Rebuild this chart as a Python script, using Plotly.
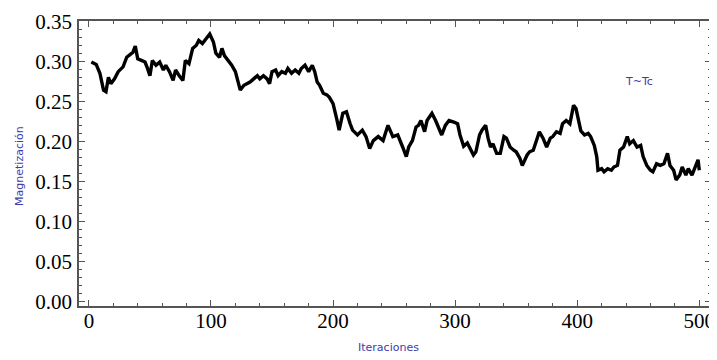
import plotly.graph_objects as go

iteraciones = [2, 6, 9, 12, 14, 16, 18, 21, 24, 28, 31, 33, 36, 38, 40, 43, 46, 48, 50, 52,
               55, 58, 61, 63, 66, 69, 71, 74, 77, 79, 82, 85, 88, 90, 93, 96, 99,
               102, 104, 107, 109, 111, 114, 117, 120, 122, 124, 127, 130, 132, 135, 138, 140,
               143, 146, 148, 150, 153, 155, 158, 161, 163, 166, 169, 172, 174, 177, 180, 183,
               185, 187, 189, 192, 195, 197, 200, 203, 205, 208, 211, 214, 216, 220, 224, 227,
               230, 233, 237, 241, 245, 249, 253, 257, 260, 262, 265, 268, 270, 272, 275, 277,
               281, 284, 287, 289, 292, 295, 299, 302, 304, 307, 310, 312, 315, 317, 320, 322,
               325, 327, 329, 331, 334, 337, 340, 342, 345, 348, 350, 353, 355, 359, 361, 364,
               367, 369, 372, 375, 378, 380, 383, 386, 388, 391, 394, 397, 399, 401, 403, 406,
               409, 411, 414, 416, 417, 420, 422, 425, 428, 430, 433, 435, 438, 441, 443, 446,
               449, 452, 454, 457, 460, 462, 465, 468, 471, 474, 476, 479, 481, 484, 486, 489,
               491, 494, 497, 499, 500]
magnetizacion = [0.299, 0.296, 0.285, 0.264, 0.262, 0.280, 0.272, 0.278, 0.287, 0.293, 0.305,
                 0.307, 0.311, 0.319, 0.303, 0.301, 0.299, 0.291, 0.282, 0.301, 0.295, 0.299,
                 0.289, 0.295, 0.287, 0.276, 0.289, 0.282, 0.276, 0.301, 0.297, 0.316, 0.320,
                 0.326, 0.322, 0.328, 0.334,
                 0.324, 0.310, 0.305, 0.316, 0.307, 0.301, 0.295, 0.287, 0.276, 0.264, 0.270,
                 0.272, 0.274, 0.278, 0.282, 0.278, 0.282, 0.278, 0.272, 0.287, 0.289, 0.282,
                 0.287, 0.285, 0.291, 0.285, 0.289, 0.285, 0.291, 0.295, 0.287, 0.295, 0.287,
                 0.274, 0.270, 0.260, 0.258, 0.255, 0.247, 0.228, 0.214, 0.235, 0.237, 0.222,
                 0.214, 0.208, 0.214, 0.206, 0.191, 0.201, 0.206, 0.201, 0.220, 0.206, 0.208,
                 0.193, 0.181, 0.193, 0.201, 0.218, 0.220, 0.226, 0.212, 0.226, 0.235, 0.226,
                 0.216, 0.208, 0.220, 0.226, 0.224, 0.222, 0.208, 0.194, 0.198, 0.192, 0.183,
                 0.187, 0.208, 0.214, 0.220, 0.204, 0.193, 0.197, 0.185, 0.185, 0.206, 0.204,
                 0.193, 0.189, 0.187, 0.179, 0.170, 0.183, 0.187, 0.189, 0.204, 0.212, 0.204,
                 0.193, 0.204, 0.206, 0.212, 0.210, 0.222, 0.226, 0.222, 0.245, 0.241, 0.228,
                 0.213, 0.208, 0.210, 0.206, 0.195, 0.181, 0.164, 0.166, 0.162, 0.166, 0.164,
                 0.168, 0.170, 0.189, 0.193, 0.206, 0.197, 0.201, 0.193, 0.195, 0.181, 0.170,
                 0.164, 0.162, 0.172, 0.170, 0.172, 0.185, 0.170, 0.164, 0.152, 0.158, 0.168,
                 0.158, 0.166, 0.158, 0.170, 0.177, 0.164]

x_ticks = [0, 100, 200, 300, 400, 500]
y_ticks = [0.00, 0.05, 0.10, 0.15, 0.20, 0.25, 0.30, 0.35]
y_tick_labels = [f"{v:.2f}" for v in y_ticks]

fig = go.Figure()
fig.add_trace(go.Scatter(x=iteraciones, y=magnetizacion, mode="lines",
                         line=dict(color="black", width=3.4), showlegend=False))

axis_common = dict(showgrid=False, zeroline=False, showline=True, linecolor="#555555",
                   linewidth=1.5, mirror="ticks", ticks="inside", ticklen=6, tickcolor="#555555",
                   tickfont=dict(family="Liberation Serif", size=21, color="black"))

fig.update_xaxes(range=[-8.1, 509.6], tickvals=x_ticks, ticklabelstandoff=-5,
                 minor=dict(dtick=20, ticks="inside", ticklen=3, tickcolor="#555555"),
                 **axis_common)
fig.update_yaxes(range=[-0.0054, 0.3502], tickvals=y_ticks, ticktext=y_tick_labels,
                 ticklabelstandoff=1,
                 minor=dict(dtick=0.01, ticks="inside", ticklen=3, tickcolor="#555555"),
                 **axis_common)

blue = "#3c3caa"
fig.add_annotation(text="Iteraciones", xref="paper", yref="paper", x=0.49, y=-0.147,
                   showarrow=False, xanchor="center", yanchor="middle",
                   font=dict(family="DejaVu Sans", size=11, color=blue))
fig.add_annotation(text="Magnetización", xref="paper", yref="paper", x=-0.094, y=0.49,
                   showarrow=False, textangle=-90, xanchor="center", yanchor="middle",
                   font=dict(family="DejaVu Sans", size=11, color=blue))
fig.add_annotation(text="T~Tc", xref="x", yref="y", x=451, y=0.275, showarrow=False,
                   xanchor="center", yanchor="middle",
                   font=dict(family="DejaVu Sans", size=11, color=blue))

# page body has an 8px default margin; offset the figure so the frame lands where the reference has it
fig.update_layout(width=709, height=352, margin=dict(l=71, r=2, t=13, b=54),
                  plot_bgcolor="white", paper_bgcolor="white")

fig.write_html("out.html")
